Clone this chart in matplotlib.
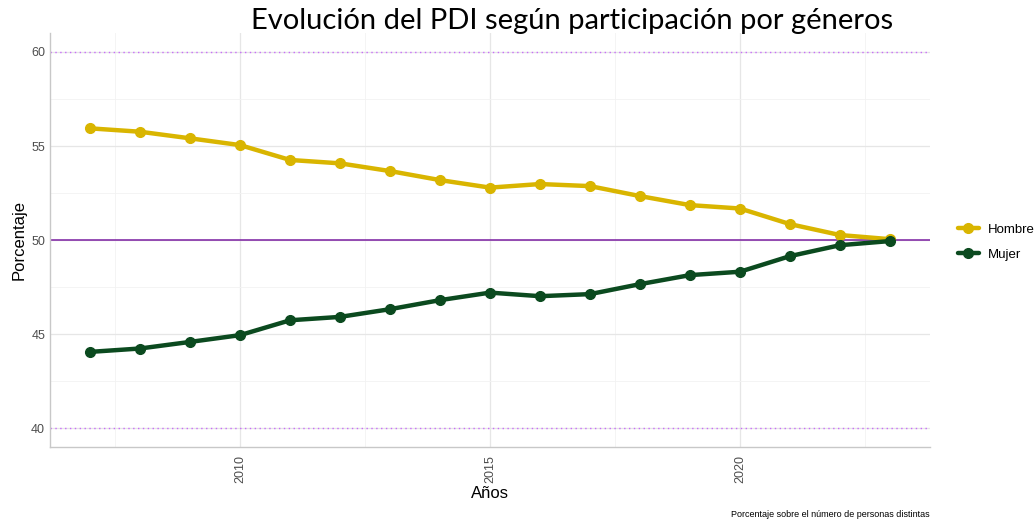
import numpy as np
import matplotlib.pyplot as plt

plt.rcParams.update({'font.family': ['Liberation Sans', 'DejaVu Sans']})

# data
years = [2007, 2008, 2009, 2010, 2011, 2012, 2013, 2014, 2015,
         2016, 2017, 2018, 2019, 2020, 2021, 2022, 2023]
hombre = [55.94, 55.76, 55.41, 55.05, 54.26, 54.08, 53.67, 53.19, 52.79,
          52.98, 52.87, 52.34, 51.86, 51.68, 50.85, 50.27, 50.05]
mujer = [44.06, 44.24, 44.59, 44.95, 45.74, 45.92, 46.33, 46.81, 47.21,
         47.02, 47.13, 47.66, 48.14, 48.32, 49.15, 49.73, 49.95]
series = ['Hombre', 'Mujer']
colors = ['#D9B500', '#0B4A1F']

fig = plt.figure(figsize=(10.34, 5.26), dpi=100)
ax = fig.add_axes([0.0484, 0.150, 0.851, 0.787])

for name, vals, c in zip(series, [hombre, mujer], colors):
    ax.plot(years, vals, color=c, lw=3.2, marker='o', ms=7, label=name,
            solid_capstyle='round', zorder=3)

ax.axhline(50, color='#7B1FA2', lw=1.1, zorder=2)
ax.axhline(40, color='#C86BFA', lw=1.0, ls=(0, (1, 2.5)), zorder=2)
ax.axhline(60, color='#C86BFA', lw=1.0, ls=(0, (1, 2.5)), zorder=2)

ax.set_xlim(2006.2, 2023.8)
ax.set_ylim(39, 61)
ax.set_xticks([2010, 2015, 2020])
ax.set_xticks([2007.5, 2012.5, 2017.5, 2022.5], minor=True)
ax.set_yticks([40, 45, 50, 55, 60])
ax.set_yticks([42.5, 47.5, 52.5, 57.5], minor=True)
ax.grid(True, which='major', color='#E6E6E6', lw=0.9, zorder=0)
ax.grid(True, which='minor', color='#F2F2F2', lw=0.6, zorder=0)
ax.set_axisbelow(True)

for s in ['top', 'right']:
    ax.spines[s].set_visible(False)
for s in ['left', 'bottom']:
    ax.spines[s].set_color('#C8C8C8')
    ax.spines[s].set_linewidth(1.0)

ax.tick_params(which='both', length=0, colors='#4D4D4D', labelsize=9)
plt.setp(ax.get_xticklabels(), rotation=90)
ax.tick_params(axis='x', pad=6)

ax.set_xlabel('Años', fontsize=12, labelpad=2)
ax.set_ylabel('Porcentaje', fontsize=12, labelpad=3)

fig.text(0.553, 0.960, 'Evolución del PDI según participación por géneros',
         ha='center', va='center', fontsize=21, family=['Lato', 'DejaVu Sans'])
fig.text(0.899, 0.022, 'Porcentaje sobre el número de personas distintas',
         ha='right', va='center', fontsize=6.5)

ax.legend(loc='center left', bbox_to_anchor=(1.018, 0.495), frameon=False,
          fontsize=9.5, handlelength=1.6, handletextpad=0.7, labelspacing=1.0)

plt.savefig('out.png', dpi=100)
